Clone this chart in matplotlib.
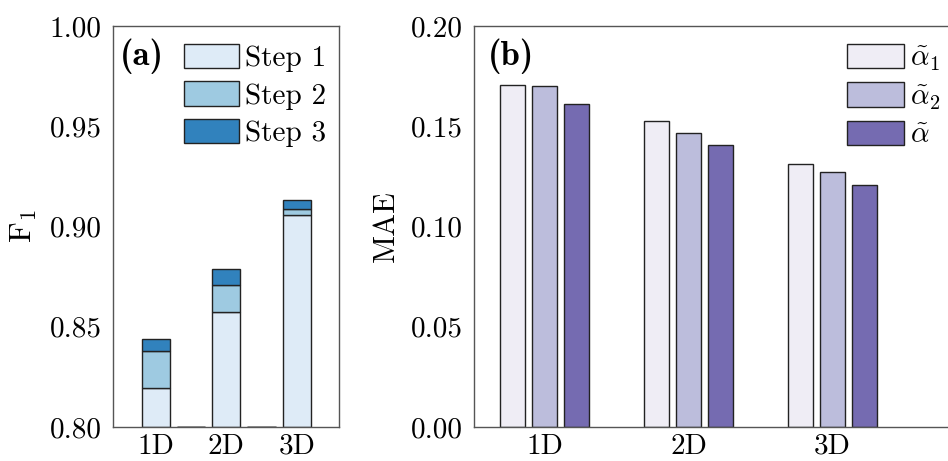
import matplotlib
matplotlib.use("Agg")
import matplotlib.pyplot as plt
import numpy as np

plt.rcParams['font.family'] = 'serif'
plt.rcParams['font.serif'] = ['cmr10']
plt.rcParams['mathtext.fontset'] = 'cm'
plt.rcParams['axes.formatter.use_mathtext'] = True
plt.rcParams['axes.unicode_minus'] = False

# ---------------- data ----------------
# panel (a): stacked F1 (cumulative tops); spacer slots have no height
f1_categories = ['1D', '', '2D', '', '3D']
f1_step1 = [0.8193, 0.80, 0.8572, 0.80, 0.9056]
f1_step2 = [0.8378, 0.80, 0.8708, 0.80, 0.9086]
f1_step3 = [0.8439, 0.80, 0.8786, 0.80, 0.9131]
f1_legend = ['Step 1', 'Step 2', 'Step 3']
f1_ticks = [0.80, 0.85, 0.90, 0.95, 1.00]

# panel (b): MAE grouped
mae_categories = ['1D', '2D', '3D']
mae_alpha1 = [0.1707, 0.1525, 0.1313]
mae_alpha2 = [0.1699, 0.1468, 0.1272]
mae_alpha = [0.1613, 0.1408, 0.1205]
mae_legend = [r'$\tilde{\alpha}_1$', r'$\tilde{\alpha}_2$', r'$\tilde{\alpha}$']
mae_ticks = [0.00, 0.05, 0.10, 0.15, 0.20]

blues = ['#deebf7', '#9ecae1', '#3182bd']
purples = ['#efedf5', '#bcbddc', '#756bb1']
spine_c = '#555555'
FS = 21

W, H = 948, 461
fig = plt.figure(figsize=(W / 100, H / 100), dpi=100)

def px(x0, y0, x1, y1):
    return [x0 / W, 1 - y1 / H, (x1 - x0) / W, (y1 - y0) / H]

# ---------------- panel (a) ----------------
ax1 = fig.add_axes(px(113, 26, 339, 427))
x = np.arange(1, len(f1_categories) + 1)
base = 0.80
s1 = np.array(f1_step1)
s2 = np.array(f1_step2)
s3 = np.array(f1_step3)
ax1.bar(x, s1 - base, bottom=base, width=0.8, color=blues[0],
        edgecolor='#222222', linewidth=1.0, label=f1_legend[0])
ax1.bar(x, s2 - s1, bottom=s1, width=0.8, color=blues[1],
        edgecolor='#222222', linewidth=1.0, label=f1_legend[1])
ax1.bar(x, s3 - s2, bottom=s2, width=0.8, color=blues[2],
        edgecolor='#222222', linewidth=1.0, label=f1_legend[2])
ax1.set_ylim(0.80, 1.00)
ax1.set_xlim(-0.22, 6.2)
ax1.set_yticks(f1_ticks)
ax1.set_yticklabels([f'{v:.2f}' for v in f1_ticks])
ax1.set_xticks(x[::2])
ax1.set_xticklabels([c for c in f1_categories if c])
ax1.set_ylabel(r'$\mathrm{F}_1$', fontsize=FS + 2, labelpad=8)
fig.text(120 / W, 1 - 38 / H, '(a)', fontfamily='cmb10', fontsize=25,
         va='top', ha='left')
h1, l1 = ax1.get_legend_handles_labels()
fig.legend(h1, l1, loc='upper left', bbox_to_anchor=(184 / W, 1 - 44 / H),
           fontsize=FS, frameon=False, handlelength=1.9, handleheight=0.9,
           handletextpad=0.2, labelspacing=0.32, borderaxespad=0.0,
           borderpad=0.0)

# ---------------- panel (b) ----------------
ax2 = fig.add_axes(px(474, 26, 978, 427))
xg = np.arange(1, len(mae_categories) + 1)
off = 0.222
wb = 0.176
for i, (vals, c, lab) in enumerate(zip([mae_alpha1, mae_alpha2, mae_alpha],
                                       purples, mae_legend)):
    ax2.bar(xg + (i - 1) * off, vals, width=wb, color=c, edgecolor='#222222',
            linewidth=1.0, label=lab)
ax2.set_ylim(0, 0.20)
ax2.set_xlim(0.51, 4.01)
ax2.set_yticks(mae_ticks)
ax2.set_yticklabels([f'{v:.2f}' for v in mae_ticks])
ax2.set_xticks(xg)
ax2.set_xticklabels(mae_categories)
ax2.set_ylabel('MAE', fontsize=FS + 1, labelpad=8)
fig.text(488 / W, 1 - 38 / H, '(b)', fontfamily='cmb10', fontsize=25,
         va='top', ha='left')
h2, l2 = ax2.get_legend_handles_labels()
fig.legend(h2, l2, loc='upper left', bbox_to_anchor=(847 / W, 1 - 44 / H),
           fontsize=FS, frameon=False, handlelength=1.95, handleheight=0.9,
           handletextpad=0.2, labelspacing=0.32, borderaxespad=0.0,
           borderpad=0.0)

for ax in (ax1, ax2):
    for s in ax.spines.values():
        s.set_color(spine_c)
        s.set_linewidth(1.0)
    ax.tick_params(length=0, labelsize=FS)
    ax.tick_params(axis='y', pad=8)
    ax.tick_params(axis='x', pad=4.5)

fig.savefig('out.png', dpi=100)
